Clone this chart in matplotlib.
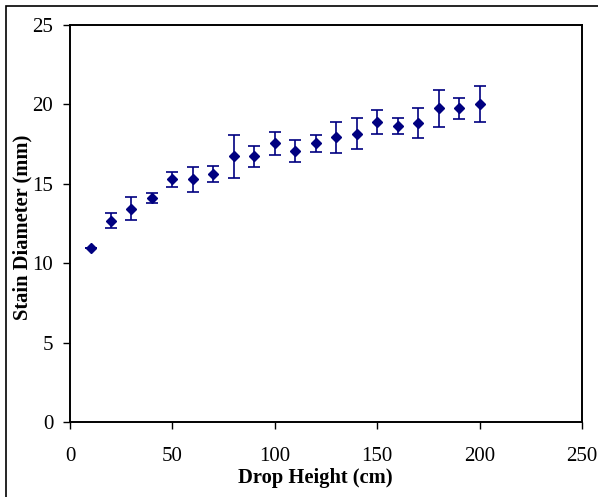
import matplotlib
matplotlib.use("Agg")
import matplotlib.pyplot as plt
from matplotlib.patches import Rectangle

height = [10, 20, 30, 40, 50, 60, 70, 80, 90, 100,
          110, 120, 130, 140, 150, 160, 170, 180, 190, 200]
diameter = [11.0, 12.7, 13.45, 14.12, 15.3, 15.3, 15.65, 16.74, 16.74, 17.55,
            17.07, 17.55, 17.93, 18.17, 18.92, 18.67, 18.84, 19.75, 19.75, 20.02]
error = [0.0, 0.47, 0.72, 0.32, 0.47, 0.8, 0.5, 1.35, 0.68, 0.72,
         0.67, 0.52, 0.97, 1.0, 0.76, 0.5, 0.92, 1.17, 0.67, 1.13]

plt.rcParams["font.family"] = ["Liberation Serif", "DejaVu Serif"]

fig = plt.figure(figsize=(5.98, 4.97), dpi=100)
ax = fig.add_axes([0.1171, 0.1499, 0.8561, 0.7998])

ax.errorbar(height, diameter, yerr=error, fmt="D", color="#000080",
            markersize=5.2, elinewidth=1.2, capsize=4.5, capthick=1.2)

ax.set_xlim(0, 250)
ax.set_ylim(0, 25)
ax.set_xticks([0, 50, 100, 150, 200, 250])
ax.set_yticks([0, 5, 10, 15, 20, 25])
ax.tick_params(direction="out", length=5, width=1, labelsize=15)
ax.tick_params(axis="x", pad=13)
ax.tick_params(axis="y", pad=7)
for s in ax.spines.values():
    s.set_linewidth(1.4)

ax.set_xlabel("Drop Height (cm)", fontsize=14.8, fontweight="bold")
ax.set_ylabel("Stain Diameter (mm)", fontsize=14.8, fontweight="bold")
ax.xaxis.set_label_coords(0.48, -0.115)
ax.yaxis.set_label_coords(-0.073, 0.49)

# outer chart frame
fig.patches.append(Rectangle((5.5 / 598, -0.1), 1.2, 1.1 - 5.5 / 497,
                             transform=fig.transFigure, fill=False,
                             edgecolor="black", linewidth=1.2))

fig.savefig("out.png", dpi=100)
